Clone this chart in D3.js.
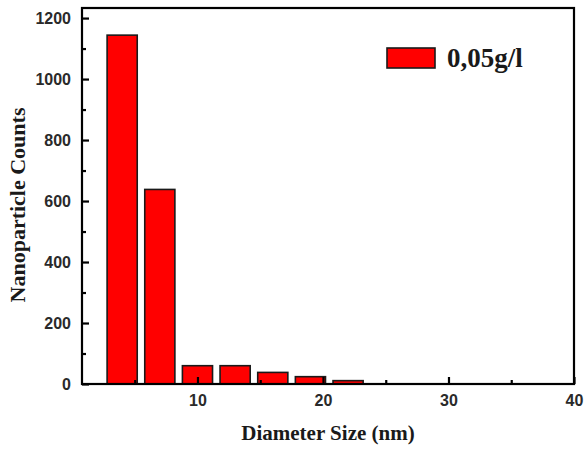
<!DOCTYPE html>
<html><head><meta charset="utf-8">
<script src="https://cdn.jsdelivr.net/npm/d3@7"></script>
<style>body{margin:0;background:#fff}</style>
</head><body>
<svg id="c" width="585" height="449"></svg>
<script>
const binCenters = [4, 7, 10, 13, 16, 19, 22];
const counts = [1144, 638, 60, 60, 38, 24, 11];
const seriesName = "0,05g/l";
const xMajorTicks = [10, 20, 30, 40];
const xMinorTicks = [5, 15, 25, 35];
const yMajorTicks = [0, 200, 400, 600, 800, 1000, 1200];
const yMinorTicks = [100, 300, 500, 700, 900, 1100];
const xTitle = "Diameter Size (nm)";
const yTitle = "Nanoparticle Counts";

const svg = d3.select("#c");
const L = 82, R = 574, T = 8, B = 384;
const x = d3.scaleLinear().domain([0.8, 40]).range([L, R]);
const y = d3.scaleLinear().domain([0, 1233]).range([B, T]);
const binW = 3, barFrac = 0.8;

// bars
svg.append("g").selectAll("rect").data(binCenters).join("rect")
  .attr("x", (d) => x(d - binW * barFrac / 2))
  .attr("width", (d) => x(d + binW * barFrac / 2) - x(d - binW * barFrac / 2))
  .attr("y", (d, i) => y(counts[i]))
  .attr("height", (d, i) => y(0) - y(counts[i]))
  .attr("fill", "#ff0000").attr("stroke", "#1a1a1a").attr("stroke-width", 1.6);

// frame
svg.append("rect").attr("x", L).attr("y", T).attr("width", R - L).attr("height", B - T)
  .attr("fill", "none").attr("stroke", "#000").attr("stroke-width", 2.2);

// axes with inward ticks
const tickFont = "bold 16px 'Liberation Sans', Arial, sans-serif";
const xAx = svg.append("g").attr("transform", `translate(0,${B})`)
  .call(d3.axisBottom(x).tickValues(xMajorTicks).tickSize(-7).tickPadding(11).tickFormat(d3.format("d")));
const xMin = svg.append("g").attr("transform", `translate(0,${B})`)
  .call(d3.axisBottom(x).tickValues(xMinorTicks).tickSize(-4).tickFormat(""));
const yAx = svg.append("g").attr("transform", `translate(${L},0)`)
  .call(d3.axisLeft(y).tickValues(yMajorTicks).tickSize(-7).tickPadding(11).tickFormat(d3.format("d")));
const yMin = svg.append("g").attr("transform", `translate(${L},0)`)
  .call(d3.axisLeft(y).tickValues(yMinorTicks).tickSize(-4).tickFormat(""));
[xAx, xMin, yAx, yMin].forEach(g => {
  g.select(".domain").remove();
  g.selectAll("line").attr("stroke", "#000").attr("stroke-width", 2.2);
  g.selectAll("text").style("font", tickFont).attr("fill", "#2a2a2a");
});

// titles
svg.append("text").attr("x", 328).attr("y", 440).attr("text-anchor", "middle")
  .style("font", "bold 21px 'Liberation Serif', 'Times New Roman', serif").attr("fill", "#1a1a1a")
  .text(xTitle);
svg.append("text").attr("transform", "translate(25,205) rotate(-90)").attr("text-anchor", "middle")
  .style("font", "bold 22px 'Liberation Serif', 'Times New Roman', serif").attr("fill", "#1a1a1a")
  .text(yTitle);

// legend
const lg = svg.append("g");
lg.append("rect").attr("x", 387).attr("y", 48).attr("width", 48).attr("height", 20)
  .attr("fill", "#ff0000").attr("stroke", "#1a1a1a").attr("stroke-width", 1.6);
lg.append("text").attr("x", 447).attr("y", 67)
  .style("font", "bold 27px 'Liberation Serif', 'Times New Roman', serif").attr("fill", "#1a1a1a")
  .text(seriesName);
</script>
</body></html>
